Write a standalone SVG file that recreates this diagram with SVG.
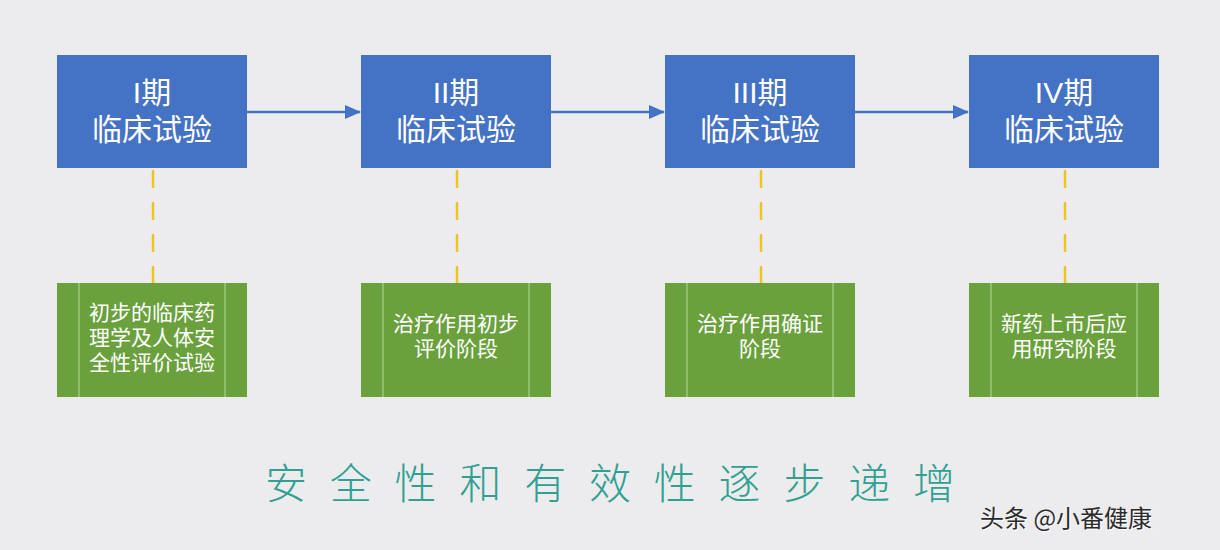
<svg xmlns="http://www.w3.org/2000/svg" width="1220" height="550" viewBox="0 0 1220 550">
<style>
.phase{fill:#4472C4;}
.ptxt{fill:#fff;font-family:"Liberation Sans","Noto Sans CJK SC",sans-serif;font-size:30px;text-anchor:middle;}
.desc{fill:#6AA13D;}
.inner{stroke:#B5D89A;stroke-width:1;}
.dtxt{fill:#fff;font-family:"Liberation Sans","Noto Sans CJK SC",sans-serif;font-size:21px;text-anchor:middle;}
.arrow{stroke:#4472C4;stroke-width:2.5;fill:none;marker-end:url(#ah);}
.dash{stroke:#F2C318;stroke-width:2.5;stroke-dasharray:18 14;fill:none;}
</style>
<defs>
<marker id="ah" markerWidth="16" markerHeight="14" refX="15" refY="7" orient="auto" markerUnits="userSpaceOnUse">
<path d="M0,0 L16,7 L0,14 Z" fill="#4472C4"/>
</marker>
</defs>
<rect width="1220" height="550" fill="#ECECEE"/>

<g id="connectors">
<line class="arrow" x1="247" y1="112" x2="360" y2="112"/>
<line class="arrow" x1="551" y1="112" x2="664" y2="112"/>
<line class="arrow" x1="855" y1="112" x2="968" y2="112"/>
<line class="dash" x1="153" y1="170" x2="153" y2="283"/>
<line class="dash" x1="457" y1="170" x2="457" y2="283"/>
<line class="dash" x1="761" y1="170" x2="761" y2="283"/>
<line class="dash" x1="1065" y1="170" x2="1065" y2="283"/>
</g>

<g id="phase1">
<rect class="phase" x="57" y="55" width="190" height="113"/>
<text class="ptxt" x="152" y="103">I期</text>
<text class="ptxt" x="152" y="140">临床试验</text>
</g>
<g id="phase2">
<rect class="phase" x="361" y="55" width="190" height="113"/>
<text class="ptxt" x="456" y="103">II期</text>
<text class="ptxt" x="456" y="140">临床试验</text>
</g>
<g id="phase3">
<rect class="phase" x="665" y="55" width="190" height="113"/>
<text class="ptxt" x="760" y="103">III期</text>
<text class="ptxt" x="760" y="140">临床试验</text>
</g>
<g id="phase4">
<rect class="phase" x="969" y="55" width="190" height="113"/>
<text class="ptxt" x="1064" y="103">IV期</text>
<text class="ptxt" x="1064" y="140">临床试验</text>
</g>

<g id="desc1">
<rect class="desc" x="57" y="283" width="190" height="114"/>
<line class="inner" x1="79" y1="283" x2="79" y2="397"/>
<line class="inner" x1="225" y1="283" x2="225" y2="397"/>
<text class="dtxt" x="152" y="320">初步的临床药</text>
<text class="dtxt" x="152" y="345">理学及人体安</text>
<text class="dtxt" x="152" y="370">全性评价试验</text>
</g>
<g id="desc2">
<rect class="desc" x="361" y="283" width="190" height="114"/>
<line class="inner" x1="383" y1="283" x2="383" y2="397"/>
<line class="inner" x1="529" y1="283" x2="529" y2="397"/>
<text class="dtxt" x="456" y="331">治疗作用初步</text>
<text class="dtxt" x="456" y="356">评价阶段</text>
</g>
<g id="desc3">
<rect class="desc" x="665" y="283" width="190" height="114"/>
<line class="inner" x1="687" y1="283" x2="687" y2="397"/>
<line class="inner" x1="833" y1="283" x2="833" y2="397"/>
<text class="dtxt" x="760" y="331">治疗作用确证</text>
<text class="dtxt" x="760" y="356">阶段</text>
</g>
<g id="desc4">
<rect class="desc" x="969" y="283" width="190" height="114"/>
<line class="inner" x1="991" y1="283" x2="991" y2="397"/>
<line class="inner" x1="1137" y1="283" x2="1137" y2="397"/>
<text class="dtxt" x="1064" y="331">新药上市后应</text>
<text class="dtxt" x="1064" y="356">用研究阶段</text>
</g>

<g id="caption">
<text x="265" y="499" textLength="690" lengthAdjust="spacing" fill="#2FA091" font-family="Noto Sans CJK SC, sans-serif" font-size="42" font-weight="300">安全性和有效性逐步递增</text>
</g>
<g id="watermark">
<text x="981" y="528" fill="#FFFFFF" font-family="Noto Sans CJK SC, sans-serif" font-size="24">头条 @小番健康</text>
<text x="980" y="527" fill="#2B2B2B" font-family="Noto Sans CJK SC, sans-serif" font-size="24">头条 @小番健康</text>
</g>
</svg>
